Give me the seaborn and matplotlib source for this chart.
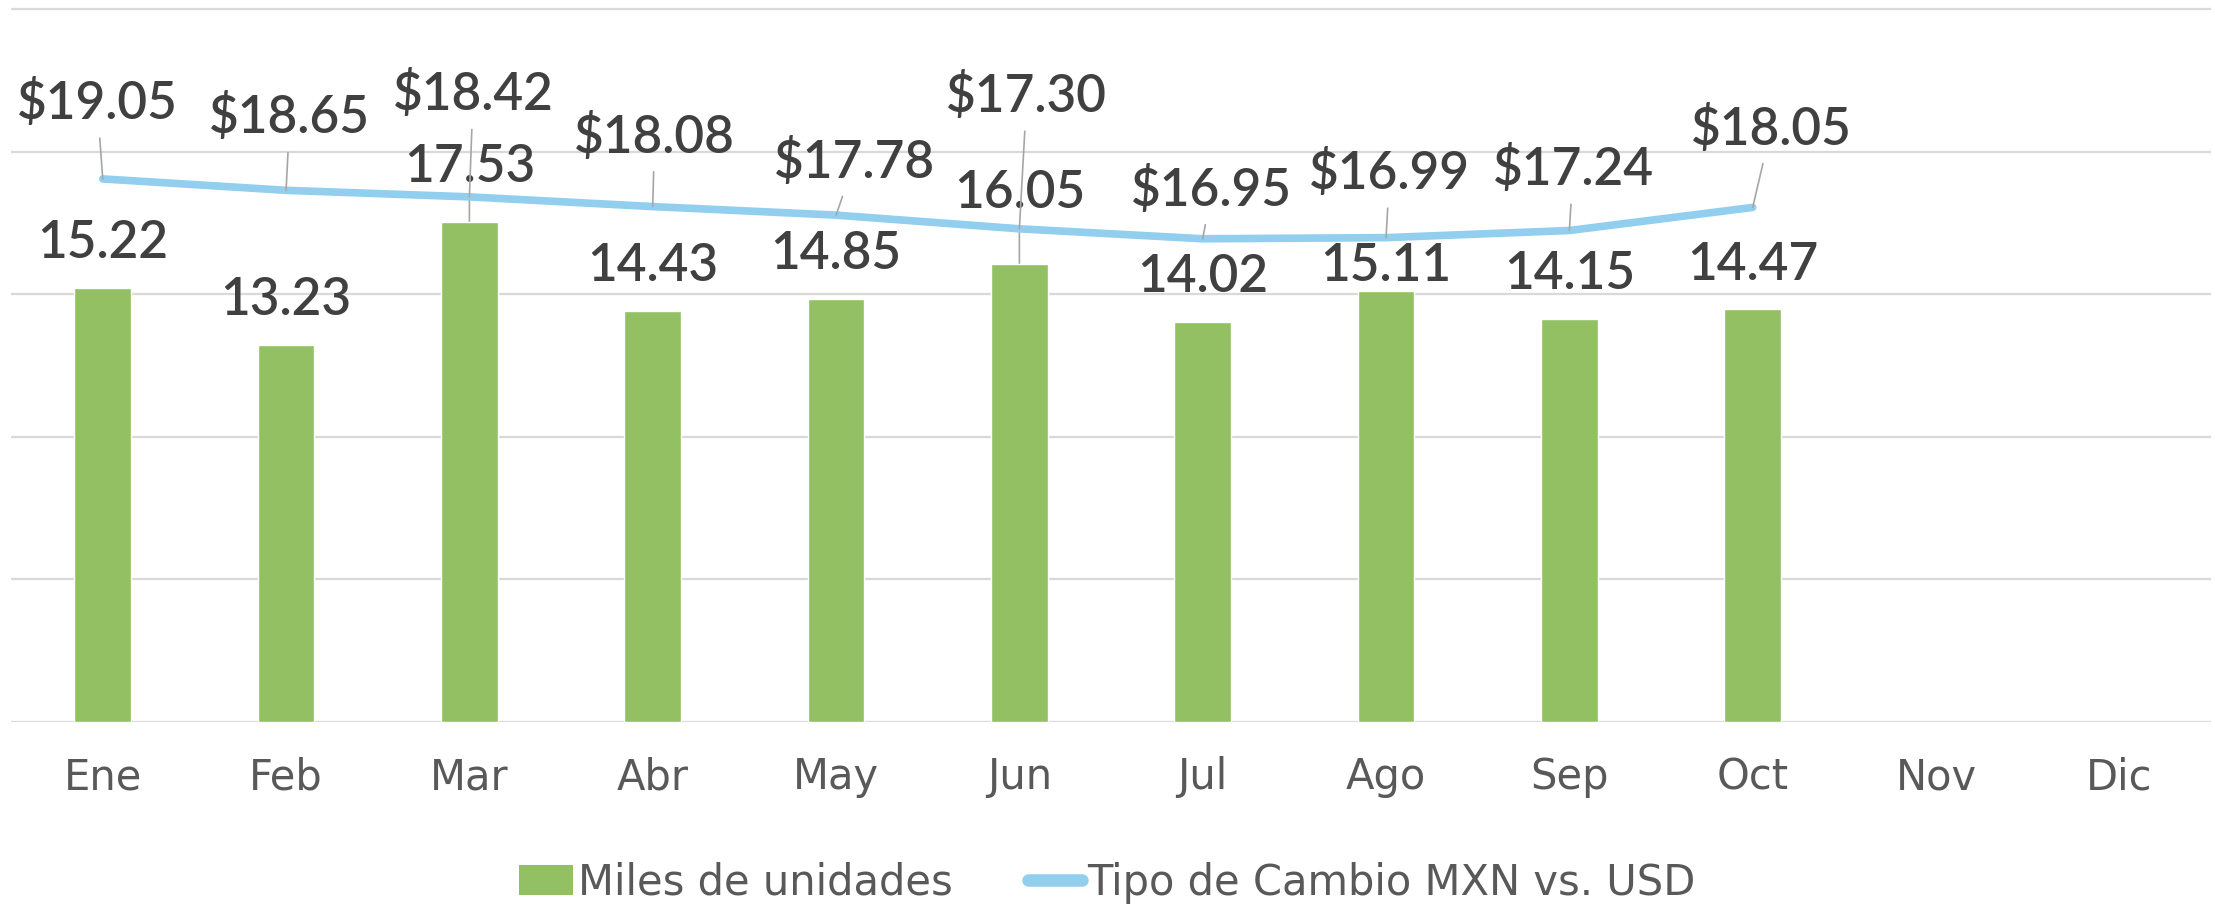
import numpy as np
import matplotlib
matplotlib.use("Agg")
import matplotlib.pyplot as plt
import seaborn as sns
from matplotlib.patches import Patch
from matplotlib.lines import Line2D

# ---------------------------------------------------------------
# Datos
# ---------------------------------------------------------------
meses = ["Ene", "Feb", "Mar", "Abr", "May", "Jun",
         "Jul", "Ago", "Sep", "Oct", "Nov", "Dic"]
miles_unidades = [15.22, 13.23, 17.53, 14.43, 14.85, 16.05,
                  14.02, 15.11, 14.15, 14.47]
tipo_cambio = [19.05, 18.65, 18.42, 18.08, 17.78, 17.30,
               16.95, 16.99, 17.24, 18.05]

# desplazamiento de las etiquetas (en unidades del eje)
dy_barras = [1.56, 1.56, 1.91, 1.56, 1.56, 2.49, 1.56, 0.86, 1.56, 1.56]
dx_linea = [-0.03, 0.02, 0.02, 0.01, 0.10, 0.04, 0.05, 0.02, 0.02, 0.10]
dy_linea = [2.65, 2.54, 3.58, 2.44, 1.86, 4.64, 1.71, 2.25, 2.14, 2.75]

verde = "#92C062"
azul = "#92CEEE"
gris_texto = "#404040"
gris_ejes = "#595959"
gris_grid = "#D9D9D9"
gris_guia = "#A6A6A6"

sns.set_style("white")

fig = plt.figure(figsize=(22.15, 9.09), dpi=100)
ax = fig.add_axes([0.005, 0.2057, 0.9932, 0.7866])

sns.barplot(x=meses[:len(miles_unidades)], y=miles_unidades, order=meses,
            color=verde, saturation=1, width=0.31, ax=ax, zorder=2)
x_linea = np.arange(len(tipo_cambio))
sns.lineplot(x=x_linea, y=tipo_cambio, color=azul, lw=5.5,
             solid_capstyle="round", ax=ax, zorder=3)

ax.set_xlim(-0.5, len(meses) - 0.5)
ax.set_ylim(0, 25.08)
ax.set_yticks([0, 5, 10, 15, 20, 25])
ax.yaxis.grid(True, color=gris_grid, lw=1.6)
ax.set_axisbelow(True)
ax.tick_params(axis="y", left=False, labelleft=False)
ax.tick_params(axis="x", bottom=False, pad=21)
ax.set_xticks(range(len(meses)))
ax.set_xticklabels(meses, fontsize=30, color=gris_ejes, family="DejaVu Sans")
ax.set_xlabel("")
ax.set_ylabel("")
for s in ax.spines.values():
    s.set_visible(False)

# etiquetas de las barras
for i, v in enumerate(miles_unidades):
    props = None
    if dy_barras[i] > 1.8:
        props = dict(arrowstyle="-", color=gris_guia, lw=1.2, shrinkA=4, shrinkB=0)
    ax.annotate(f"{v:.2f}", xy=(i, v), xytext=(i, v + dy_barras[i]),
                ha="center", va="center", fontsize=37, color=gris_texto,
                family="Lato", weight="semibold", arrowprops=props, zorder=1)

# etiquetas de la linea
for i, v in enumerate(tipo_cambio):
    ax.annotate(f"${v:.2f}", xy=(i, v), xytext=(i + dx_linea[i], v + dy_linea[i]),
                ha="center", va="center", fontsize=37, color=gris_texto,
                family="Lato", weight="semibold",
                arrowprops=dict(arrowstyle="-", color=gris_guia, lw=1.2,
                                shrinkA=5, shrinkB=0),
                zorder=4)

handles = [Patch(facecolor=verde, edgecolor="none"),
           Line2D([0], [0], color=azul, lw=9, solid_capstyle="round")]
fig.legend(handles, ["Miles de unidades", "Tipo de Cambio MXN vs. USD"],
           loc="center", bbox_to_anchor=(0.5, 0.029), ncol=2, frameon=False,
           prop={"family": "DejaVu Sans", "size": 30}, labelcolor=gris_ejes,
           handlelength=1.3, handleheight=0.75, handletextpad=0.12,
           columnspacing=1.8)

fig.savefig("out.png", dpi=100)
